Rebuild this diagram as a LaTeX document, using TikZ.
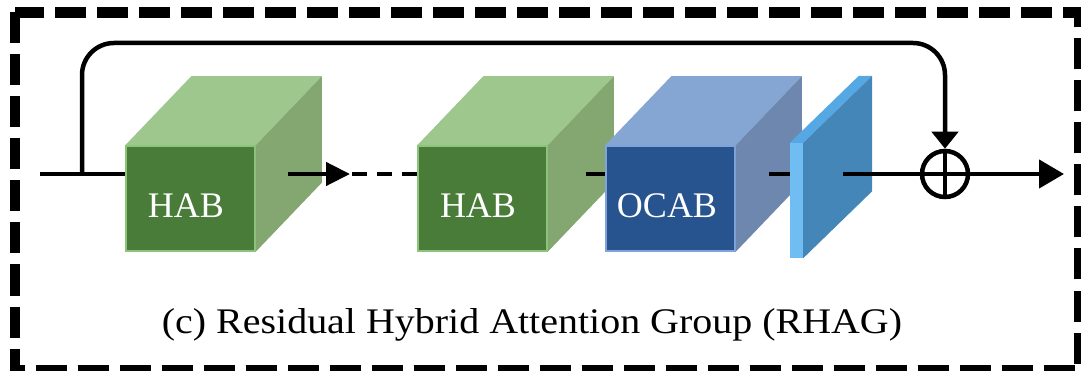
\documentclass[tikz,border=0pt]{standalone}
\usepackage{fontspec}
\setmainfont{Liberation Serif}
\usetikzlibrary{arrows.meta,calc}

% block colours
\definecolor{gfront}{HTML}{4A7C39}
\definecolor{gtop}{HTML}{9DC78C}
\definecolor{gside}{HTML}{84A772}
\definecolor{gedge}{HTML}{8CC47C}
\definecolor{bfront}{HTML}{27538F}
\definecolor{btop}{HTML}{85A5D3}
\definecolor{bside}{HTML}{6E87AE}
\definecolor{bedge}{HTML}{80A4D8}
\definecolor{sfront}{HTML}{6FBDF2}
\definecolor{sside}{HTML}{4486B8}
\definecolor{stop}{HTML}{55A8E3}

\tikzset{
  face/.style={rectangle, minimum width=129pt, minimum height=105pt, inner sep=0pt,
    line width=1.5pt, text=white, font=\fontsize{36}{40}\selectfont},
  wire/.style={line width=4.5pt, black},
  headA/.style={-{Triangle[length=24pt,width=23pt]}},
  headB/.style={-{Triangle[length=17pt,width=26pt]}},
  headC/.style={-{Triangle[length=25pt,width=28pt]}},
  frame/.style={line width=10.5pt, dash pattern=on 31pt off 11pt},
  lbl/.style={text=white, font=\fontsize{36}{40}\selectfont, anchor=base},
}

% 3-D block: front face node #1, depth (66,-69)
\newcommand{\blockdepth}[3]{%
  \fill[#2] (#1.north west) -- ++(66,-69) -- ($(#1.north east)+(66,-69)$) -- (#1.north east) -- cycle;
  \fill[#3] (#1.north east) -- ++(66,-69) -- ($(#1.south east)+(66,-69)$) -- (#1.south east) -- cycle;
}

\begin{document}
\begin{tikzpicture}[x=1pt, y=-1pt]
\useasboundingbox (0,0) rectangle (1081,371);

% outer dashed frame
\draw[frame] (15,12.5) rectangle (1079,370);

% blocks
\node[face, fill=gfront, draw=gedge] (hab1) at (190.5,198.5) {};
\blockdepth{hab1}{gtop}{gside}
\node[lbl] (t1) at (186,218) {HAB};

\node[face, fill=gfront, draw=gedge] (hab2) at (482.5,198.5) {};
\blockdepth{hab2}{gtop}{gside}
\node[lbl] (t2) at (478,218) {HAB};

\node[face, fill=bfront, draw=bedge] (ocab) at (670.5,198.5) {};
\blockdepth{ocab}{btop}{bside}
\node[lbl] (t3) at (667,218) {OCAB};

% thin slab
\node[rectangle, minimum width=13pt, minimum height=115pt, inner sep=0pt, fill=sfront] (slab) at (796.5,200.5) {};
\fill[stop] (slab.north west) -- ++(69,-67) -- ($(slab.north east)+(69,-67)$) -- (slab.north east) -- cycle;
\fill[sside] (slab.north east) -- ++(69,-67) -- ($(slab.south east)+(69,-67)$) -- (slab.south east) -- cycle;

% adder
\node[circle, draw, line width=4.5pt, minimum size=46pt, inner sep=0pt] (sum) at (945,174) {};
\draw[wire] (sum.north) -- (sum.south);

% main path
\coordinate (in) at (40,174);
\coordinate (split) at (82,174);
\coordinate (o1) at (288,174);
\coordinate (d1) at (350,174);
\coordinate (d2) at (352,174);
\coordinate (o2) at (586,174);
\coordinate (o3) at (769,174);
\coordinate (o4) at (843,174);
\coordinate (out) at (1064,174);

\draw[wire] (in) -- (in -| hab1.west);
\draw[wire, headA] (o1) -- (d1);
\draw[wire, dash pattern=on 15pt off 10pt] (d2) -- (d2 -| hab2.west);
\draw[wire] (o2) -- (o2 -| ocab.west);
\draw[wire] (o3) -- (o3 -| slab.west);
\draw[wire] (o4) -- (sum.east);
\draw[wire, headC] (sum.west) -- (out);

% skip connection
\draw[wire, headB, rounded corners=32pt] (split) -- (82,43) -- (945,43) -- (sum.north);

% caption
\node[anchor=base, font=\fontsize{36}{40}\selectfont] (cap) at (532,333)
  {\scalebox{1.11}[1]{(c) Residual Hybrid Attention Group (RHAG)}};
\end{tikzpicture}
\end{document}
